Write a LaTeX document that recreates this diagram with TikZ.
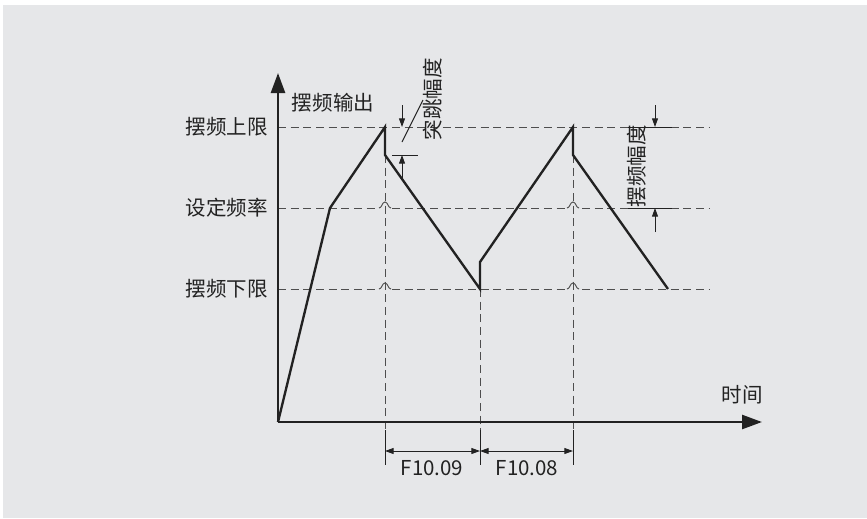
\documentclass[tikz,border=0pt]{standalone}
\usepackage{fontspec}
\setmainfont{Noto Sans CJK SC}
\usetikzlibrary{arrows.meta, positioning}
\definecolor{bggray}{HTML}{E6E7E9}
\definecolor{ink}{HTML}{222222}

\begin{document}
\begin{tikzpicture}[
    x=0.03cm, y=-0.03cm,
    lbl/.style={font=\fontsize{17.5}{20}\selectfont, text=ink, inner sep=0pt},
    axis/.style={draw=ink, line width=2.2pt, -{Triangle[length=0.6cm, width=0.42cm]}},
    wave/.style={draw=ink, line width=2pt, line join=miter},
    guide/.style={draw=ink!80, line width=0.8pt, dash pattern=on 0.24cm off 0.14cm},
    dimline/.style={draw=ink, line width=0.8pt},
    dimarrow/.style={draw=ink, line width=0.8pt, -{Triangle[length=0.26cm, width=0.18cm]}},
    dimboth/.style={draw=ink, line width=0.8pt, {Triangle[length=0.26cm, width=0.18cm]}-{Triangle[length=0.26cm, width=0.18cm]}},
]

% Background
\useasboundingbox (0,0) rectangle (867,518);
\fill[bggray] (3,5) rectangle (867,518);

% Key points
\coordinate (origin) at (278,422);
\coordinate (ytip) at (278,73);
\coordinate (xtip) at (762,422);
\coordinate (w1) at (330,208);
\coordinate (w2) at (385,127);
\coordinate (w3) at (385,155);
\coordinate (w4) at (480,289);
\coordinate (w5) at (480,262);
\coordinate (w6) at (573,127);
\coordinate (w7) at (573,155);
\coordinate (w8) at (668,289);

% Level lines
\coordinate (hiL) at (278,127); \coordinate (hiR) at (710,127);
\coordinate (midL) at (278,208); \coordinate (midR) at (710,208);
\coordinate (loL) at (278,289); \coordinate (loR) at (710,289);
\draw[guide] (hiL) -- (hiR);
\draw[guide] (midL) -- (midR);
\draw[guide] (loL) -- (loR);

% Crossing humps
\foreach \cx/\cy in {385/208, 385/289, 573/208, 573/289} {
  \fill[bggray] (\cx-6,\cy-1.5) rectangle (\cx+6,\cy+1.5);
  \draw[ink!80, line width=0.8pt] (\cx-6,\cy) .. controls (\cx-3,\cy) and (\cx-3,\cy-6) .. (\cx,\cy-6)
    .. controls (\cx+3,\cy-6) and (\cx+3,\cy) .. (\cx+6,\cy);
}

% Vertical guides
\coordinate (g1) at (385,430);
\coordinate (g2) at (480,430);
\coordinate (g3) at (573,430);
\draw[guide] (w3) -- (g1);
\draw[guide] (w4) -- (g2);
\draw[guide] (w7) -- (g3);

% Axes
\draw[axis] (origin) -- (ytip);
\draw[axis] (origin) -- (xtip);

% Waveform
\draw[wave] (origin) -- (w1) -- (w2) -- (w3) -- (w4) -- (w5) -- (w6) -- (w7) -- (w8);

% Axis labels
\node[lbl] (yname) at (333,103) {摆频输出};
\node[lbl] (xname) at (742,395) {时间};
\node[lbl, anchor=east] (hiname) at (268,127) {摆频上限};
\node[lbl, anchor=east] (midname) at (268,208) {设定频率};
\node[lbl, anchor=east] (loname) at (268,289) {摆频下限};

% Jump amplitude
\coordinate (j1s) at (402,105); \coordinate (j1e) at (402,127);
\coordinate (j2s) at (402,178); \coordinate (j2e) at (402,155);
\coordinate (jbL) at (392,155); \coordinate (jbR) at (418,155);
\coordinate (jlA) at (402,142); \coordinate (jlB) at (423,100);
\draw[dimarrow] (j1s) -- (j1e);
\draw[dimarrow] (j2s) -- (j2e);
\draw[dimline] (jbL) -- (jbR);
\draw[dimline] (jlA) -- (jlB);
\node[lbl, rotate=90] (jumpname) at (433,99) {突跳幅度};

% Swing amplitude
\coordinate (s1s) at (655,105); \coordinate (s1e) at (655,127);
\coordinate (s2s) at (655,232); \coordinate (s2e) at (655,208);
\coordinate (stL) at (628,127); \coordinate (stR) at (672,127);
\coordinate (sbL) at (628,208); \coordinate (sbR) at (672,208);
\draw[dimarrow] (s1s) -- (s1e);
\draw[dimarrow] (s2s) -- (s2e);
\draw[dimline] (stL) -- (stR);
\draw[dimline] (sbL) -- (sbR);
\node[lbl, rotate=90] (swingname) at (637,166) {摆频幅度};

% Time spans
\coordinate (t1a) at (385,430); \coordinate (t1b) at (385,465);
\coordinate (t2a) at (480,430); \coordinate (t2b) at (480,465);
\coordinate (t3a) at (573,430); \coordinate (t3b) at (573,465);
\draw[dimline] (t1a) -- (t1b);
\draw[dimline] (t2a) -- (t2b);
\draw[dimline] (t3a) -- (t3b);
\coordinate (d1) at (385,451); \coordinate (d2) at (480,451); \coordinate (d3) at (573,451);
\draw[dimboth] (d1) -- (d2);
\draw[dimboth] (d2) -- (d3);
\node[lbl] (fallname) at (432,468) {F10.09};
\node[lbl] (risename) at (527,468) {F10.08};

\end{tikzpicture}
\end{document}
